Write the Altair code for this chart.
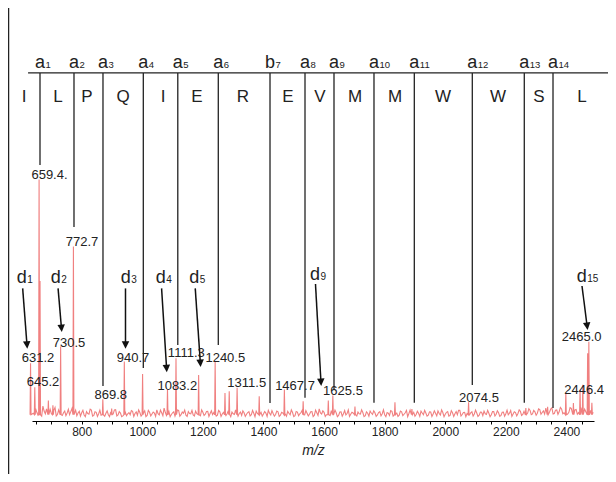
import math
import altair as alt
import pandas as pd

# ---------------- data ----------------
MZ_MIN, MZ_MAX = 636, 2491
INT_MAX = 171
W, H = 562, 413

# spectrum peaks (m/z, relative intensity %)
peak_mz = [631.2, 645.2, 659.4, 662.5, 690, 705, 730.5, 772.7, 869.8, 899, 940.7, 1001,
           1083.2, 1111.3, 1186, 1240.5, 1273, 1287, 1313, 1386, 1469, 1531, 1614, 1629,
           1702, 1834, 1890, 2077, 2266, 2338, 2398, 2423, 2445, 2454, 2470, 2474, 2484]
peak_int = [23.9, 14.0, 100, 58, 8.5, 6.5, 30.8, 72.2, 9.0, 5.2, 24.6, 19.5,
            13.1, 26.0, 19.0, 24.6, 11.6, 12.3, 13.8, 10.2, 13.0, 8.2, 8.5, 10.6,
            6.0, 7.8, 4.9, 7.8, 5.4, 5.9, 11.6, 7.4, 12.8, 15.0, 28.0, 32.8, 7.5]

# noisy baseline sampled every 8 m/z from 640
baseline_int = [
    3.2, 5.1, 2.4, 4.4, 6.2, 3.0, 2.1, 4.8, 3.5, 5.6, 2.7, 3.9, 2.3, 4.1, 3.3, 2.6, 5.2, 3.1, 2.2, 4.0,
    3.4, 2.5, 3.9, 2.8, 4.5, 2.3, 3.6, 3.0, 2.4, 4.3, 3.2, 2.6, 3.8, 2.9, 4.7, 2.5, 3.3, 2.1, 3.7, 3.0,
    2.6, 4.0, 3.1, 2.4, 3.5, 2.8, 4.2, 2.3, 3.6, 2.9, 3.3, 4.6, 2.5, 3.4, 5.3, 2.2, 3.9, 2.7, 3.8, 3.1,
    4.4, 2.6, 3.2, 2.4, 3.9, 3.0, 2.5, 4.1, 3.3, 2.2, 3.6, 2.8, 4.0, 3.1, 2.6, 3.5, 2.4, 3.8, 2.9, 4.8,
    3.0, 2.5, 3.7, 2.7, 4.2, 3.1, 2.3, 3.4, 2.8, 3.9, 2.6, 3.2, 4.1, 2.4, 3.6, 2.9, 3.3, 4.4, 2.5, 3.1,
    2.7, 3.8, 2.4, 3.3, 2.9, 4.0, 2.6, 3.5, 2.2, 3.7, 3.0, 4.5, 2.5, 3.2, 2.8, 3.9, 2.4, 3.4, 5.0, 2.9,
    3.6, 2.6, 3.1, 4.3, 2.7, 3.4, 2.3, 3.8, 3.0, 2.5, 4.6, 2.8, 3.3, 2.4, 3.7, 2.9, 3.5, 2.2, 3.2, 4.1,
    2.7, 3.4, 2.5, 3.9, 3.0, 2.6, 3.5, 2.3, 4.0, 2.9, 3.3, 2.4, 3.8, 2.8, 4.4, 3.1, 2.5, 3.6, 2.7, 3.2,
    4.1, 2.6, 3.3, 2.4, 3.7, 2.9, 3.2, 4.2, 2.5, 3.5, 2.8, 3.9, 2.3, 3.4, 3.0, 2.6, 4.4, 2.7, 3.6, 3.1,
    2.5, 3.8, 2.9, 3.3, 2.4, 3.6, 4.1, 2.7, 3.2, 2.6, 3.9, 2.8, 3.4, 2.3, 3.7, 3.0, 2.6, 4.3, 2.9, 3.5,
    3.1, 4.0, 2.7, 3.6, 3.3, 4.4, 2.9, 3.8, 3.2, 4.7, 3.5, 2.9, 4.2, 3.6, 5.4, 3.1, 4.6, 3.8, 5.0, 3.4,
    4.3, 3.6, 5.2, 3.9, 4.8, 3.5, 5.6, 4.1, 3.8, 5.1, 4.4, 3.7,
]
# noisy baseline between those samples (every 8 m/z from 644)
baseline_mid_int = [
    1.9, 3.6, 4.9, 2.0, 4.1, 5.0, 1.8, 3.0, 4.4, 2.1, 4.6, 1.7, 3.4, 2.2, 4.8, 3.9, 1.9, 4.5, 3.3, 2.0,
    4.4, 1.8, 3.1, 4.9, 2.0, 3.8, 1.9, 4.5, 3.6, 2.0, 4.2, 1.8, 3.0, 4.6, 2.1, 3.9, 1.8, 4.7, 2.2, 3.5,
    4.3, 1.9, 3.8, 4.6, 2.0, 3.3, 1.8, 4.4, 2.1, 3.7, 1.9, 3.0, 4.5, 2.2, 3.6, 4.1, 1.8, 3.4, 2.0, 4.6,
    2.0, 3.7, 4.5, 1.9, 3.1, 4.4, 2.1, 3.0, 1.8, 4.6, 2.3, 3.9, 1.9, 4.2, 3.5, 2.0, 4.4, 1.9, 3.6, 2.2,
    4.3, 1.8, 3.0, 4.6, 2.0, 3.7, 4.2, 1.9, 3.5, 2.1, 4.4, 1.8, 3.1, 4.5, 2.0, 3.9, 1.9, 3.2, 4.3, 2.0,
    4.1, 1.9, 3.6, 4.4, 2.0, 3.2, 4.6, 1.8, 3.9, 2.2, 3.5, 1.9, 4.3, 2.1, 3.8, 1.8, 4.5, 2.3, 3.3, 4.2,
    1.9, 4.0, 2.2, 3.4, 4.5, 1.8, 3.7, 2.0, 4.3, 3.1, 1.9, 3.6, 4.4, 2.1, 3.0, 4.6, 1.8, 3.8, 2.0, 3.3,
    4.2, 1.9, 3.5, 2.1, 4.6, 1.8, 3.2, 4.3, 2.0, 3.7, 1.9, 4.1, 2.2, 3.4, 1.8, 4.5, 3.0, 2.0, 4.0, 1.9,
    3.3, 4.4, 2.0, 3.8, 1.9, 4.2, 2.1, 3.1, 4.6, 1.8, 3.6, 2.0, 4.3, 1.9, 3.9, 4.4, 2.1, 3.5, 1.8, 4.0,
    3.4, 2.0, 4.5, 1.9, 3.7, 2.2, 3.0, 4.4, 1.8, 3.9, 2.1, 4.2, 1.9, 3.6, 2.0, 4.5, 3.2, 1.9, 3.8, 2.1,
    4.6, 2.3, 4.0, 2.2, 5.1, 2.6, 4.4, 2.4, 5.0, 2.8, 4.2, 5.3, 2.6, 4.9, 2.9, 4.5, 2.7, 5.6, 3.0, 4.7,
    2.9, 5.5, 3.2, 4.6, 2.8, 5.8, 3.3, 4.9, 3.0, 5.2, 3.4,
]
BASE_START, MID_START, BASE_STEP = 640, 644, 8

# fragment ions (sequence dividers)
ion_letter = ["a", "a", "a", "a", "a", "a", "b", "a", "a", "a", "a", "a", "a", "a"]
ion_sub = ["1", "2", "3", "4", "5", "6", "7", "8", "9", "10", "11", "12", "13", "14"]
ion_mz = [662.4, 774.6, 870.3, 1003.4, 1117.2, 1250.9, 1421.6, 1537.1, 1632.8,
          1764.8, 1897.9, 2089.3, 2260.9, 2355.7]
ion_bottom = [106.0, 80.3, 14.5, 21.9, 31.5, 31.5, 7.5, 9.6, 12.8, 7.6, 7.6, 14.9, 7.6, 5.4]
SEQ_LINE = {"mz": 623, "mz2": 2540, "v": 144.1}
ION_LABEL_V = 146.0

seq_letters = ["I", "L", "P", "Q", "I", "E", "R", "E", "V", "M", "M", "W", "W", "S", "L"]
seq_mz = [609.6, 721.8, 817.5, 936.4, 1068.4, 1180.6, 1332.4, 1481, 1586.6, 1702.1,
          1834.2, 1992.6, 2174.1, 2309.4, 2451.4]
SEQ_V = 132.2

# peak labels
peak_label_text = ["659.4.", "772.7", "631.2", "645.2", "730.5", "869.8", "940.7", "1083.2",
                   "1111.3", "1240.5", "1311.5", "1467.7", "1625.5", "2074.5", "2446.4", "2465.0"]
peak_label_mz = [693.8, 801, 655.8, 672.3, 758.1, 895.8, 969.4, 1115.6,
                 1145.3, 1274, 1344.7, 1504.1, 1662.5, 2111.4, 2458.6, 2450.4]
peak_label_v = [101.9, 74.2, 26.1, 16.3, 32.4, 10.8, 26.1, 14.5,
                28.0, 26.2, 15.6, 14.5, 12.4, 9.6, 12.8, 34.7]

# d ions with arrows
d_sub = ["1", "2", "3", "4", "5", "9", "15"]
d_mz = [602, 714.6, 945.6, 1061.1, 1171.4, 1570, 2450.3]
d_v = [57.3, 57.3, 57.3, 57.0, 57.3, 58.4, 57.4]
arrow_start_mz = [605.2, 722.1, 944.6, 1063.8, 1174.8, 1571.7, 2451.4]
arrow_start_v = [54.9, 54.9, 54.9, 54.9, 54.9, 56.7, 55.9]
arrow_tip_mz = [620.4, 734.3, 944.6, 1081, 1192.6, 1590.5, 2469.9]
arrow_tip_v = [29.9, 36.8, 29.9, 20.2, 22.4, 14.5, 37.7]

# ---------------- build tables ----------------
FONT = "Liberation Sans"
INK = "#222222"
RED = "#f08080"
VALLEY = 2.6

rows = []
base_pts = [(BASE_START + BASE_STEP * i, v) for i, v in enumerate(baseline_int)]
base_pts += [(MID_START + BASE_STEP * i, v) for i, v in enumerate(baseline_mid_int)]
for m, v in base_pts:
    if min(abs(m - p) for p in peak_mz) > 2.5:
        rows.append((m, v))
for p, h in zip(peak_mz, peak_int):
    rows += [(p - 1.6, VALLEY), (p, h), (p + 1.6, VALLEY)]
spec = pd.DataFrame(rows, columns=["mz", "v"]).sort_values("mz")

sx = W / (MZ_MAX - MZ_MIN)
sy = H / INT_MAX
arr = []
for s_m, s_v, t_m, t_v in zip(arrow_start_mz, arrow_start_v, arrow_tip_mz, arrow_tip_v):
    dx = (t_m - s_m) * sx
    dy = -(t_v - s_v) * sy
    L = math.hypot(dx, dy)
    ux, uy = dx / L, dy / L
    ang = math.degrees(math.atan2(-dx, dy)) % 360
    arr.append({"mz": s_m, "v": s_v, "mz2": t_m - ux * 5 / sx, "v2": t_v + uy * 5 / sy,
                "tmz": t_m, "tv": t_v, "ang": ang})
arrows = pd.DataFrame(arr)

ions = pd.DataFrame({"mz": ion_mz, "v": SEQ_LINE["v"], "v2": ion_bottom,
                     "letter": ion_letter, "sub": ion_sub, "lv": ION_LABEL_V})
seq = pd.DataFrame({"mz": seq_mz, "v": SEQ_V, "t": seq_letters})
plabels = pd.DataFrame({"mz": peak_label_mz, "v": peak_label_v, "t": peak_label_text})
dlab = pd.DataFrame({"mz": d_mz, "v": d_v, "sub": d_sub, "t": "d"})
hline = pd.DataFrame([SEQ_LINE])

xscale = alt.Scale(domain=[MZ_MIN, MZ_MAX], nice=False, zero=False)
yscale = alt.Scale(domain=[0, INT_MAX], nice=False, zero=False)
xaxis = alt.Axis(
    values=list(range(650, 2491, 50)),
    labelExpr="datum.value % 200 == 0 ? datum.label : ''",
    format="d", title="m/z", titleFontStyle="italic", titleFont=FONT,
    titleFontSize=14, titleFontWeight="normal", titleColor=INK, titlePadding=6,
    labelFont=FONT, labelFontSize=12, labelColor=INK, labelPadding=2,
    labelFlush=False, labelOverlap=False,
    domainColor="#000000", domainWidth=1, tickColor="#000000", tickSize=3, tickWidth=1,
    grid=False,
)


def X(f="mz"):
    return alt.X(f"{f}:Q", scale=xscale, axis=xaxis)


def Y(f="v"):
    return alt.Y(f"{f}:Q", scale=yscale, axis=None)


spectrum = alt.Chart(spec).mark_line(color=RED, strokeWidth=1.1).encode(x=X(), y=Y())

ion_lines = alt.Chart(ions).mark_rule(color=INK, strokeWidth=1.3).encode(
    x=X(), y=Y(), y2=alt.Y2("v2"))
seq_rule = alt.Chart(hline).mark_rule(color=INK, strokeWidth=1.3).encode(
    x=X(), x2=alt.X2("mz2"), y=Y())
border = alt.Chart(hline).mark_rule(color=INK, strokeWidth=1.3).encode(
    x=alt.value(-23.4), y=alt.value(-10), y2=alt.value(480))

ion_main = alt.Chart(ions).mark_text(font=FONT, fontSize=18, color=INK, align="center",
                                     baseline="alphabetic").encode(
    x=X(), y=Y("lv"), text="letter:N")
ion_subs = alt.Chart(ions).mark_text(font=FONT, fontSize=9.5, color=INK, align="left",
                                     baseline="alphabetic", dx=5.5).encode(
    x=X(), y=Y("lv"), text="sub:N")

seq_text = alt.Chart(seq).mark_text(font=FONT, fontSize=17, color=INK, align="center",
                                    baseline="alphabetic").encode(
    x=X(), y=Y(), text="t:N")

peak_text = alt.Chart(plabels).mark_text(font=FONT, fontSize=13, color=INK, align="center",
                                         baseline="middle").encode(
    x=X(), y=Y(), text="t:N")

d_main = alt.Chart(dlab).mark_text(font=FONT, fontSize=18, color=INK, align="center",
                                   baseline="alphabetic").encode(
    x=X(), y=Y(), text="t:N")
d_subs = alt.Chart(dlab).mark_text(font=FONT, fontSize=10, color=INK, align="left",
                                   baseline="alphabetic", dx=5.5).encode(
    x=X(), y=Y(), text="sub:N")

shafts = alt.Chart(arrows).mark_rule(color="#111111", strokeWidth=1.5).encode(
    x=X(), y=Y(), x2=alt.X2("mz2"), y2=alt.Y2("v2"))
heads = alt.Chart(arrows).mark_point(shape="M0,0L-1,-2L1,-2Z", filled=True, size=56,
                                     color="#111111", opacity=1).encode(
    x=X("tmz"), y=Y("tv"), angle=alt.Angle("ang:Q", scale=None))

chart = alt.layer(
    spectrum, ion_lines, seq_rule, border, ion_main, ion_subs, seq_text,
    peak_text, d_main, d_subs, shafts, heads,
).properties(
    width=W, height=H,
    autosize=alt.AutoSizeParams(type="none"),
    padding={"left": 24, "top": 0, "right": 14, "bottom": 53},
    background="white",
).configure_view(stroke=None)

chart.save("out.html", embed_options={"renderer": "svg", "actions": False})
